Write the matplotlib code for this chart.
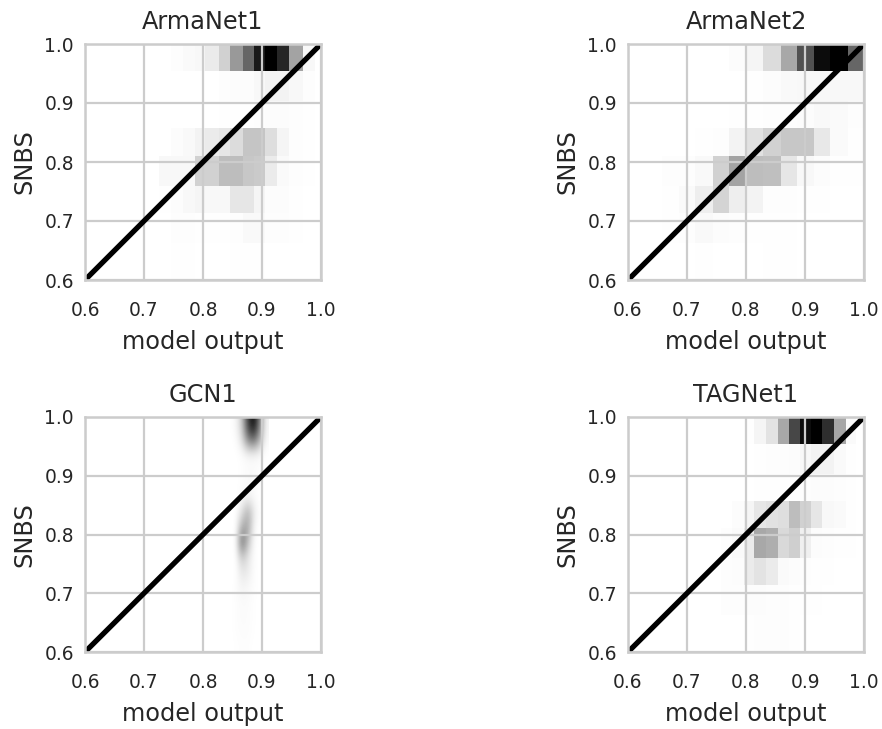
import matplotlib
matplotlib.use('Agg')
import matplotlib.pyplot as plt
import numpy as np

# bin edges, shared rows for the three blocky panels
snbs_edges = [1.0, 0.954, 0.903, 0.857, 0.811, 0.76, 0.714, 0.663, 0.6]

arma1_edges = [0.725, 0.745, 0.766, 0.786, 0.804, 0.827, 0.846, 0.868, 0.887, 0.905, 0.926, 0.946, 0.969, 0.989]
arma1_density = [
    [0.003, 0.01, 0.02, 0.03, 0.08, 0.18, 0.40, 0.60, 0.90, 1.00, 0.85, 0.36, 0.03],
    [0.00, 0.00, 0.00, 0.00, 0.003, 0.01, 0.015, 0.015, 0.03, 0.05, 0.05, 0.03, 0.01],
    [0.00, 0.00, 0.00, 0.00, 0.002, 0.005, 0.005, 0.005, 0.01, 0.015, 0.015, 0.01, 0.004],
    [0.003, 0.015, 0.025, 0.05, 0.08, 0.10, 0.14, 0.23, 0.23, 0.13, 0.04, 0.01, 0.004],
    [0.03, 0.03, 0.03, 0.18, 0.18, 0.26, 0.26, 0.22, 0.21, 0.08, 0.02, 0.01, 0.004],
    [0.004, 0.015, 0.03, 0.04, 0.03, 0.03, 0.10, 0.10, 0.04, 0.015, 0.015, 0.005, 0.00],
    [0.00, 0.01, 0.01, 0.004, 0.004, 0.004, 0.01, 0.025, 0.025, 0.01, 0.01, 0.004, 0.00],
    [0.00, 0.004, 0.004, 0.002, 0.002, 0.002, 0.004, 0.004, 0.004, 0.002, 0.002, 0.00, 0.00],
]

arma2_edges = [0.6, 0.629, 0.658, 0.686, 0.714, 0.744, 0.772, 0.8, 0.829, 0.859, 0.887, 0.915, 0.943, 0.973, 1.0]
arma2_density = [
    [0.00, 0.00, 0.00, 0.00, 0.00, 0.00, 0.015, 0.04, 0.14, 0.34, 0.68, 0.95, 1.00, 0.60],
    [0.00, 0.00, 0.00, 0.00, 0.00, 0.00, 0.00, 0.005, 0.015, 0.025, 0.03, 0.03, 0.03, 0.03],
    [0.00, 0.00, 0.00, 0.00, 0.00, 0.002, 0.004, 0.005, 0.01, 0.01, 0.015, 0.025, 0.02, 0.01],
    [0.00, 0.00, 0.00, 0.00, 0.004, 0.01, 0.05, 0.12, 0.18, 0.22, 0.22, 0.09, 0.02, 0.005],
    [0.00, 0.00, 0.01, 0.01, 0.025, 0.18, 0.36, 0.26, 0.25, 0.10, 0.03, 0.015, 0.005, 0.005],
    [0.00, 0.00, 0.005, 0.02, 0.07, 0.17, 0.07, 0.05, 0.01, 0.01, 0.005, 0.005, 0.00, 0.00],
    [0.003, 0.003, 0.004, 0.01, 0.025, 0.015, 0.01, 0.005, 0.005, 0.004, 0.00, 0.00, 0.00, 0.00],
    [0.00, 0.00, 0.00, 0.00, 0.004, 0.002, 0.002, 0.002, 0.004, 0.004, 0.002, 0.00, 0.00, 0.00],
]

tag_edges = [0.758, 0.777, 0.796, 0.813, 0.834, 0.854, 0.873, 0.891, 0.91, 0.929, 0.949, 0.969, 0.986]
tag_density = [
    [0.00, 0.002, 0.005, 0.04, 0.11, 0.34, 0.72, 0.95, 1.00, 0.82, 0.35, 0.02],
    [0.00, 0.00, 0.002, 0.005, 0.01, 0.01, 0.015, 0.03, 0.05, 0.05, 0.02, 0.005],
    [0.00, 0.00, 0.002, 0.005, 0.005, 0.005, 0.005, 0.01, 0.015, 0.015, 0.01, 0.004],
    [0.002, 0.015, 0.04, 0.10, 0.12, 0.13, 0.26, 0.18, 0.10, 0.03, 0.02, 0.005],
    [0.01, 0.02, 0.08, 0.34, 0.32, 0.15, 0.19, 0.06, 0.015, 0.01, 0.005, 0.005],
    [0.01, 0.015, 0.08, 0.11, 0.08, 0.02, 0.015, 0.01, 0.005, 0.005, 0.00, 0.00],
    [0.01, 0.01, 0.015, 0.015, 0.01, 0.01, 0.005, 0.005, 0.004, 0.00, 0.00, 0.00],
    [0.00, 0.00, 0.004, 0.01, 0.01, 0.01, 0.005, 0.002, 0.002, 0.00, 0.00, 0.00],
]

# GCN1 is smooth in the original, so it gets a finer grid and interpolation
gcn_extent = [0.84, 0.91, 0.6, 1.0]
gcn_density = [
    [0.00, 0.03, 0.20, 0.75, 1.00, 0.45, 0.03],
    [0.00, 0.01, 0.12, 0.50, 0.60, 0.30, 0.02],
    [0.00, 0.00, 0.01, 0.03, 0.03, 0.02, 0.00],
    [0.00, 0.00, 0.01, 0.02, 0.02, 0.01, 0.00],
    [0.00, 0.00, 0.01, 0.02, 0.02, 0.00, 0.00],
    [0.00, 0.00, 0.02, 0.05, 0.02, 0.00, 0.00],
    [0.00, 0.00, 0.12, 0.32, 0.08, 0.00, 0.00],
    [0.00, 0.00, 0.32, 0.35, 0.03, 0.00, 0.00],
    [0.00, 0.00, 0.60, 0.25, 0.01, 0.00, 0.00],
    [0.00, 0.00, 0.22, 0.10, 0.01, 0.00, 0.00],
    [0.00, 0.00, 0.10, 0.08, 0.01, 0.00, 0.00],
    [0.00, 0.01, 0.05, 0.03, 0.01, 0.00, 0.00],
    [0.00, 0.01, 0.02, 0.02, 0.005, 0.00, 0.00],
    [0.00, 0.01, 0.02, 0.015, 0.005, 0.00, 0.00],
    [0.00, 0.01, 0.015, 0.015, 0.005, 0.00, 0.00],
    [0.00, 0.005, 0.01, 0.01, 0.00, 0.00, 0.00],
]

diagonal = [0.605, 0.995]
ticks = [0.6, 0.7, 0.8, 0.9, 1.0]
W, H = 882, 729
GREY = '#cccccc'
TEXT = '#262626'


def style_panel(ax, title):
    ax.plot(diagonal, diagonal, color='black', lw=3.8, solid_capstyle='round', zorder=5)
    ax.set_xlim(0.6, 1.0)
    ax.set_ylim(0.6, 1.0)
    ax.set_xticks(ticks)
    ax.set_yticks(ticks)
    ax.grid(True, color=GREY, lw=1.6, zorder=3)
    ax.set_axisbelow(False)
    ax.tick_params(length=0, labelsize=13.4, labelcolor=TEXT)
    ax.tick_params(axis='x', pad=15)
    ax.tick_params(axis='y', pad=8)
    for s in ax.spines.values():
        s.set_color(GREY)
        s.set_linewidth(1.8)
        s.set_zorder(6)
    ax.set_title(title, fontsize=17.3, color=TEXT, pad=11)
    ax.set_xlabel('model output', fontsize=17.3, color=TEXT, labelpad=7.5)
    ax.set_ylabel('SNBS', fontsize=17.3, color=TEXT, labelpad=6)


def add_axes(left, top, right, bottom):
    return fig.add_axes([left / W, 1 - bottom / H, (right - left) / W, (bottom - top) / H])


fig = plt.figure(figsize=(W / 100, H / 100), dpi=100)

ax1 = add_axes(85, 44, 321, 280)
ax1.pcolormesh(arma1_edges, snbs_edges, arma1_density, cmap='gray_r', vmin=0, vmax=1, zorder=1)
style_panel(ax1, 'ArmaNet1')

ax2 = add_axes(628, 44, 864, 280)
ax2.pcolormesh(arma2_edges, snbs_edges, arma2_density, cmap='gray_r', vmin=0, vmax=1, zorder=1)
style_panel(ax2, 'ArmaNet2')

ax3 = add_axes(85, 417, 321, 652)
ax3.imshow(np.array(gcn_density), extent=gcn_extent, cmap='gray_r', vmin=0, vmax=1,
           aspect='auto', interpolation='bicubic', zorder=1)
style_panel(ax3, 'GCN1')

ax4 = add_axes(628, 417, 864, 652)
ax4.pcolormesh(tag_edges, snbs_edges, tag_density, cmap='gray_r', vmin=0, vmax=1, zorder=1)
style_panel(ax4, 'TAGNet1')

fig.savefig('out.png', dpi=100)
